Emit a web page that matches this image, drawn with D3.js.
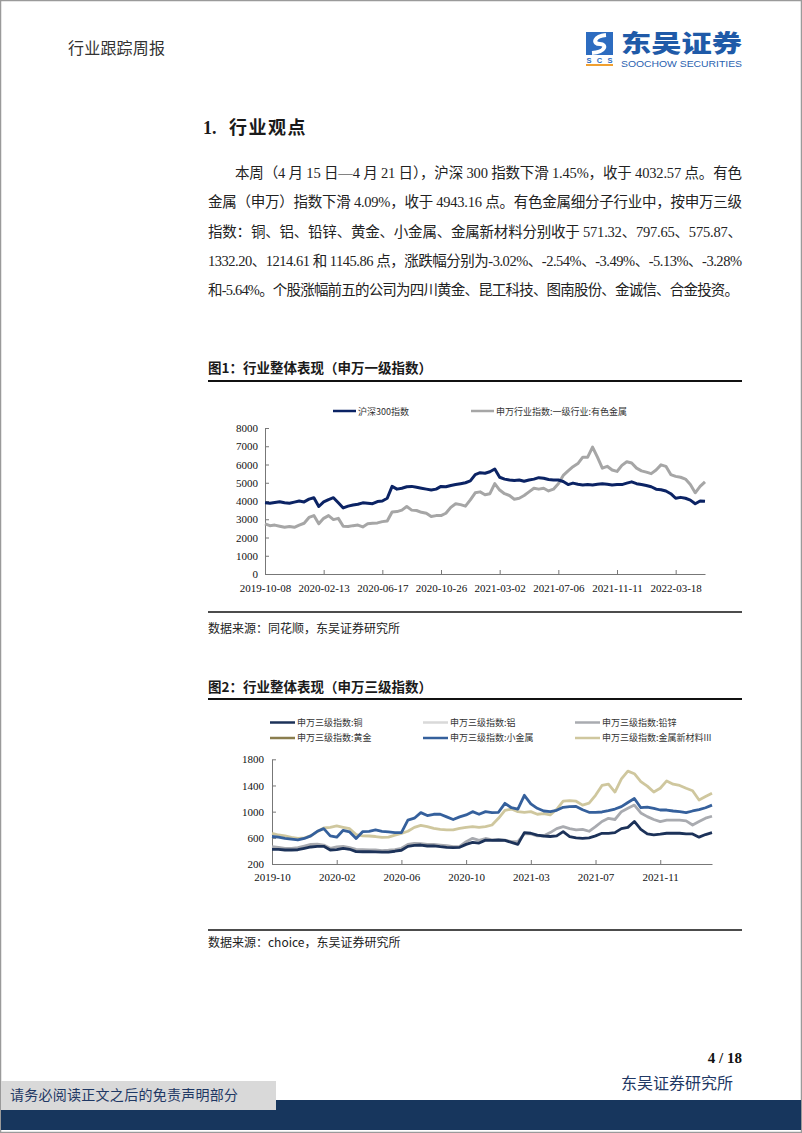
<!DOCTYPE html>
<html><head><meta charset="utf-8">
<script src="https://cdn.jsdelivr.net/npm/d3@7"></script>
<style>body{margin:0;background:#fff}svg{display:block}</style>
</head><body>
<svg id="page" width="802" height="1133"></svg>
<script>
// ---------- DATA ----------
// Chart 1: 沪深300指数 vs 申万一级行业:有色金属 (sampled ~weekly)
const hs300 = [3900,3880,3920,3960,3900,3880,3940,4000,3950,4100,4180,3700,3950,4080,4180,3900,3620,3720,3780,3820,
  3900,3880,3850,3970,4000,4150,4800,4650,4700,4780,4800,4750,4700,4650,4600,4650,4800,4780,4850,4900,
  4950,5000,5100,5450,5550,5520,5600,5750,5300,5200,5150,5120,5150,5080,5150,5200,5280,5250,5180,5150,
  5150,5070,4900,4980,4920,4880,4900,4880,4920,4950,4920,4880,4900,4900,4980,5050,4950,4900,4850,4780,
  4650,4620,4550,4400,4150,4200,4150,4050,3850,4000,3980];
const swNonferrous = [2750,2650,2680,2620,2560,2600,2560,2680,2780,3100,3200,2750,3050,3200,2980,3050,2620,2600,2650,2680,
  2580,2750,2780,2800,2870,2900,3400,3420,3500,3700,3500,3480,3380,3330,3150,3200,3200,3330,3650,3850,
  3800,3720,4060,4450,4500,4340,4400,4950,4600,4400,4300,4100,4150,4300,4500,4700,4650,4700,4550,4650,
  4950,5400,5650,5880,6050,6400,6400,6950,6400,5800,5900,5700,5620,5950,6150,6080,5800,5650,5580,5500,
  5700,5980,5900,5450,5350,5300,5200,4900,4450,4800,5050];
const chart1XLabels = ["2019-10-08","2020-02-13","2020-06-17","2020-10-26","2021-03-02","2021-07-06","2021-11-11","2022-03-18"];
const chart1XTickIdx = [0,12,24,36,48,60,72,84];
const chart1YTicks = [0,1000,2000,3000,4000,5000,6000,7000,8000];
const chart1Names = ["沪深300指数","申万行业指数:一级行业:有色金属"];

// Chart 2: 申万三级指数
const sw3Copper = [424,424,414,414,418,440,460,470,470,414,420,440,425,389,387,389,385,383,383,395,
  410,470,485,490,475,478,465,455,450,455,500,530,520,565,560,567,560,530,500,680,
  670,640,628,620,630,694,618,600,592,600,630,669,669,680,740,760,850,730,660,645,
  655,670,670,670,660,660,610,650,679];
const sw3Aluminum = [];
const sw3LeadZinc = [465,455,440,440,450,475,500,505,490,440,460,470,450,424,420,414,414,405,410,420,
  440,500,516,510,500,500,490,480,465,470,541,592,560,590,567,570,565,541,545,660,
  660,630,630,680,740,770,740,720,730,700,770,850,898,880,1000,1051,1100,980,924,880,
  847,870,870,870,860,796,850,900,930];
const sw3Gold = [];
const sw3MinorMetal = [620,610,592,580,567,590,630,700,740,630,610,715,690,590,694,700,720,700,690,679,
  680,870,900,985,940,960,960,920,880,920,950,1000,960,1000,985,990,1127,1060,1040,1250,
  1120,1051,1010,1000,1020,1066,1076,1080,1030,990,990,995,1015,1040,1076,1140,1200,1060,1070,1050,
  1025,1025,1010,1000,985,1010,1030,1060,1100];
const sw3NewMaterial = [669,643,630,608,592,600,630,694,750,760,781,760,740,650,630,628,620,608,610,640,
  669,700,760,790,770,745,730,720,720,745,760,770,760,770,796,898,1020,1040,1000,990,
  1000,960,970,950,1036,1160,1170,1160,1100,1130,1250,1400,1420,1300,1500,1620,1580,1460,1390,1300,
  1357,1470,1420,1400,1357,1320,1178,1230,1280];
const chart2Names = ["申万三级指数:铜","申万三级指数:铝","申万三级指数:铅锌","申万三级指数:黄金","申万三级指数:小金属","申万三级指数:金属新材料III"];
const chart2XLabels = ["2019-10","2020-02","2020-06","2020-10","2021-03","2021-07","2021-11"];
const chart2XTickIdx = [0,10,20,30,40,50,60];
const chart2YTicks = [200,600,1000,1400,1800];

const paragraphLines = [
  "本周（4 月 15 日—4 月 21 日），沪深 300 指数下滑 1.45%，收于 4032.57 点。有色",
  "金属（申万）指数下滑 4.09%，收于 4943.16 点。有色金属细分子行业中，按申万三级",
  "指数：铜、铝、铅锌、黄金、小金属、金属新材料分别收于 571.32、797.65、575.87、",
  "1332.20、1214.61 和 1145.86 点，涨跌幅分别为-3.02%、-2.54%、-3.49%、-5.13%、-3.28%",
  "和-5.64%。个股涨幅前五的公司为四川黄金、昆工科技、图南股份、金诚信、合金投资。"
];

// ---------- DRAW ----------
const svg = d3.select("#page");
const SERIF = "'Liberation Serif','Noto Sans CJK SC',serif";
const CJK = "'Noto Sans CJK SC','Liberation Serif',sans-serif";

svg.append("rect").attr("x",0.5).attr("y",0.5).attr("width",801).attr("height",1132)
  .attr("fill","#fff").attr("stroke","#9a9a9a").attr("stroke-width",1.5);

// header
svg.append("text").attr("x",68).attr("y",54).attr("font-family",CJK).attr("font-size",16)
  .attr("fill","#333").attr("textLength",97).text("行业跟踪周报");
// logo
const logo = svg.append("g");
logo.append("rect").attr("x",586).attr("y",32).attr("width",27).attr("height",23).attr("fill","#2d6cc0");
logo.append("path").attr("d","M606,35 C594,36 592,44 600,44 C607,44 606,52 592,53")
  .attr("fill","none").attr("stroke","#fff").attr("stroke-width",4);
logo.append("text").attr("x",599.5).attr("y",63).attr("text-anchor","middle").attr("font-family","'Liberation Sans',sans-serif")
  .attr("font-weight","bold").attr("font-size",7.5).attr("fill","#2d6cc0").attr("textLength",26).text("SCS");
logo.append("rect").attr("x",586).attr("y",64).attr("width",27).attr("height",2).attr("fill","#f0a030");
logo.append("text").attr("x",621).attr("y",52).attr("font-family",CJK).attr("font-weight",900)
  .attr("font-size",24).attr("fill","#1f5aa8").attr("textLength",121).attr("lengthAdjust","spacingAndGlyphs").text("东吴证券");
logo.append("text").attr("x",621).attr("y",67).attr("font-family","'Liberation Sans',sans-serif")
  .attr("font-size",9.5).attr("fill","#2a62b0").attr("textLength",121).attr("lengthAdjust","spacingAndGlyphs").text("SOOCHOW SECURITIES");

// section heading
const h = svg.append("text").attr("x",203).attr("y",134).attr("font-size",18).attr("font-weight","bold").attr("fill","#1a1a1a");
h.append("tspan").attr("font-family",SERIF).text("1.");
h.append("tspan").attr("x",229).attr("font-family",CJK).attr("letter-spacing",1.5).text("行业观点");

// paragraph
paragraphLines.forEach((t,i)=>{
  const x0 = i===0 ? 235 : 208;
  const x1 = i===4 ? 739 : 742;
  svg.append("text").attr("x",x0).attr("y",178+i*29.3).attr("font-family",SERIF).attr("font-size",14.5)
    .attr("fill","#222").attr("textLength",x1-x0).attr("lengthAdjust","spacing").text(t);
});

function figTitle(txt, y){
  svg.append("text").attr("x",208).attr("y",y).attr("font-family",CJK).attr("font-weight","bold")
    .attr("font-size",13.5).attr("fill","#1a1a1a").text(txt);
}
function rule(y, w){
  svg.append("line").attr("x1",208).attr("x2",742).attr("y1",y).attr("y2",y).attr("stroke","#111").attr("stroke-width",w);
}
function styleAxis(g){
  g.select(".domain").attr("stroke","#777").attr("stroke-width",1);
  g.selectAll(".tick line").attr("stroke","#777");
  g.selectAll(".tick text").attr("font-family",SERIF).attr("font-size",11).attr("fill","#111");
}

// ---------- Chart 1 ----------
figTitle("图1：行业整体表现（申万一级指数）", 373);
rule(381, 2);
const x1s = d3.scaleLinear().domain([0, hs300.length-1]).range([265,705]);
const y1s = d3.scaleLinear().domain([0,8000]).range([574,428]);
const c1 = svg.append("g");
c1.append("g").attr("transform","translate(265,0)")
  .call(d3.axisLeft(y1s).tickValues(chart1YTicks).tickSize(-4).tickSizeOuter(0).tickPadding(7).tickFormat(d3.format("d")))
  .call(styleAxis);
c1.append("g").attr("transform","translate(0,574)")
  .call(d3.axisBottom(x1s).tickValues(chart1XTickIdx).tickSize(-4).tickSizeOuter(0).tickPadding(10)
    .tickFormat((d,i)=>chart1XLabels[i]))
  .call(styleAxis);
const line1 = d3.line().x((d,i)=>x1s(i)).y(d=>y1s(d));
const c1Series = [{v:swNonferrous,c:"#a6a6a6"},{v:hs300,c:"#0b2364"}];
c1.selectAll("path.s").data(c1Series).join("path").attr("class","s").attr("d",d=>line1(d.v))
  .attr("fill","none").attr("stroke",d=>d.c).attr("stroke-width",3).attr("stroke-linejoin","round");
// legend 1
const leg1 = [{n:chart1Names[0],c:"#0b2364",x:333},{n:chart1Names[1],c:"#a6a6a6",x:471}];
leg1.forEach(l=>{
  svg.append("line").attr("x1",l.x).attr("x2",l.x+23).attr("y1",411).attr("y2",411).attr("stroke",l.c).attr("stroke-width",2.5);
  svg.append("text").attr("x",l.x+25).attr("y",414.5).attr("font-family",CJK).attr("font-size",9).attr("fill","#333").text(l.n);
});
rule(612, 1.5);
svg.append("text").attr("x",208).attr("y",633).attr("font-family",CJK).attr("font-size",12).attr("fill","#222")
  .text("数据来源：同花顺，东吴证券研究所");

// ---------- Chart 2 ----------
figTitle("图2：行业整体表现（申万三级指数）", 692);
rule(699, 2);
const x2s = d3.scaleLinear().domain([0, sw3Copper.length-1]).range([272,712]);
const y2s = d3.scaleLinear().domain([200,1800]).range([864,759.3]);
const c2 = svg.append("g");
c2.append("g").attr("transform","translate(272,0)")
  .call(d3.axisLeft(y2s).tickValues(chart2YTicks).tickSize(-4).tickSizeOuter(0).tickPadding(8).tickFormat(d3.format("d")))
  .call(styleAxis);
c2.append("g").attr("transform","translate(0,864)")
  .call(d3.axisBottom(x2s).tickValues(chart2XTickIdx).tickSize(-4).tickSizeOuter(0).tickPadding(9)
    .tickFormat((d,i)=>chart2XLabels[i]))
  .call(styleAxis);
const colors2 = ["#1c3259","#d9d9d9","#a9abb0","#8a7d4e","#35609c","#cfc79e"];
const series2 = [sw3Aluminum, sw3Gold, sw3NewMaterial, sw3LeadZinc, sw3Copper, sw3MinorMetal];
const seriesColor2 = [colors2[1], colors2[3], colors2[5], colors2[2], colors2[0], colors2[4]];
const line2 = d3.line().x((d,i)=>x2s(i)).y(d=>y2s(d));
c2.selectAll("path.s").data(series2.map((v,i)=>({v,c:seriesColor2[i]})).filter(d=>d.v.length)).join("path")
  .attr("class","s").attr("d",d=>line2(d.v)).attr("fill","none").attr("stroke",d=>d.c)
  .attr("stroke-width",2.8).attr("stroke-linejoin","round");
// legend 2
const legCols = [270,423,575], legRows = [722.5,738];
chart2Names.forEach((n,i)=>{
  const lx = legCols[i%3], ly = legRows[Math.floor(i/3)];
  svg.append("line").attr("x1",lx).attr("x2",lx+25).attr("y1",ly).attr("y2",ly).attr("stroke",colors2[i]).attr("stroke-width",2.5);
  svg.append("text").attr("x",lx+27).attr("y",ly+3.3).attr("font-family",CJK).attr("font-size",9).attr("fill","#333").text(n);
});
rule(930, 1.5);
svg.append("text").attr("x",208).attr("y",947).attr("font-family",CJK).attr("font-size",12).attr("fill","#222")
  .text("数据来源：choice，东吴证券研究所");

// ---------- Footer ----------
svg.append("text").attr("x",742).attr("y",1063).attr("text-anchor","end").attr("font-family",SERIF)
  .attr("font-weight","bold").attr("font-size",15).attr("fill","#111").text("4 / 18");
svg.append("text").attr("x",733).attr("y",1089).attr("text-anchor","end").attr("font-family",CJK)
  .attr("font-size",16).attr("fill","#1f3864").text("东吴证券研究所");
svg.append("rect").attr("x",1).attr("y",1100).attr("width",800).attr("height",30).attr("fill","#17365d");
svg.append("rect").attr("x",1).attr("y",1081).attr("width",275).attr("height",29).attr("fill","#d9d9d9");
svg.append("text").attr("x",10).attr("y",1100).attr("font-family",CJK).attr("font-size",14)
  .attr("fill","#1f3864").attr("textLength",228).text("请务必阅读正文之后的免责声明部分");
</script>
</body></html>
